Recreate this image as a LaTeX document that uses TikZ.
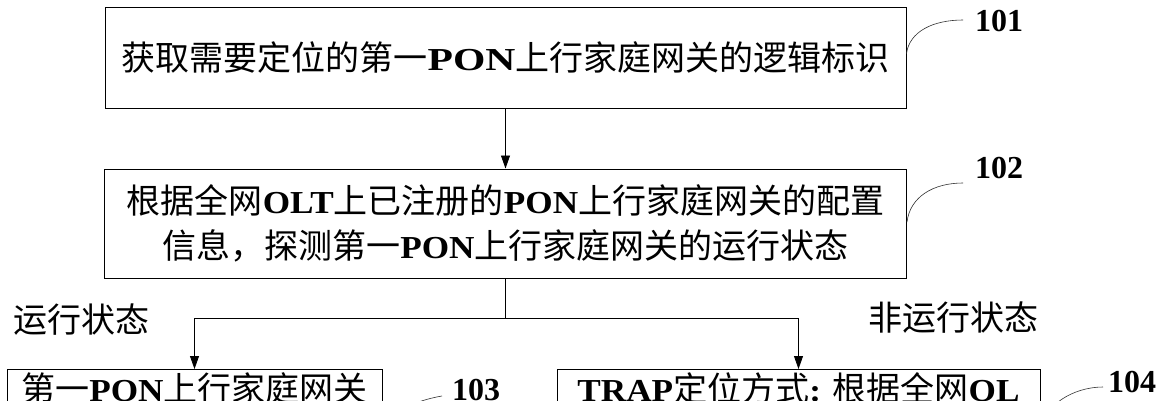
\documentclass[tikz,border=0pt]{standalone}
\usepackage{fontspec}
\usetikzlibrary{arrows.meta}
\newfontfamily\cjk{Noto Sans CJK SC}
\newfontfamily\latwide{Liberation Serif}[FakeStretch=1.3]
\newfontfamily\latmid{Liberation Serif}[FakeStretch=1.1]
\newfontfamily\latnum{Liberation Serif}
\newcommand\zh[1]{{\cjk #1}}
\newcommand\enw[1]{{\latwide\bfseries\fontsize{32}{45}\selectfont #1}}
\newcommand\enm[1]{{\latmid\bfseries\fontsize{32}{45}\selectfont #1}}
\tikzset{
  box/.style={draw, line width=1pt, inner sep=0pt, align=center, font=\fontsize{34}{45}\selectfont},
  conn/.style={line width=0.8pt},
  arr/.style={conn, -{Triangle[length=13pt,width=9pt]}},
  lead/.style={line width=0.6pt, black!80},
  num/.style={inner sep=0pt, anchor=west, font=\latnum\bfseries\fontsize{32}{32}\selectfont},
  cond/.style={inner sep=0pt, anchor=west, font=\cjk\fontsize{34}{34}\selectfont},
}
\begin{document}
\begin{tikzpicture}[x=1pt,y=-1pt]
\useasboundingbox (0,0) rectangle (1163,400);
\clip (0,0) rectangle (1163,400);
\fill[white] (0,0) rectangle (1163,400);

\node[box, minimum width=801pt, minimum height=101pt] (b1) at (505.5,57.5)
  {\zh{获取需要定位的第一}\enw{PON}\zh{上行家庭网关的逻辑标识}};
\node[box, minimum width=802pt, minimum height=109pt] (b2) at (505.5,223.5)
  {\zh{根据全网}\enm{OLT}\zh{上已注册的}\enm{PON}\zh{上行家庭网关的配置}\\
   \zh{信息，探测第一}\enm{PON}\zh{上行家庭网关的运行状态}};
\node[box, anchor=north, minimum width=375pt, text height=32pt, text depth=60pt] (b3) at (194.5,369)
  {\zh{第一}\enm{PON}\zh{上行家庭网关}};
\node[box, anchor=north, minimum width=483pt, text height=32pt, text depth=60pt] (b4) at (798.5,369)
  {\enm{TRAP}\zh{定位方式}\enm{: }\zh{根据全网}\enm{OL}};

\node[cond] (c1) at (13,320) {运行状态};
\node[cond] (c2) at (868,318) {非运行状态};

\coordinate (hl) at (0,318);
\coordinate (j) at (b2.south |- hl);
\draw[arr] (b1.south) -- (b2.north);
\draw[conn] (b2.south) -- (j);
\draw[arr] (j) -| (b3.north);
\draw[arr] (j) -| (b4.north);

\node[num] (n101) at (975,21) {101};
\node[num] (n102) at (975,168.5) {102};
\node[num] (n103) at (452,390) {103};
\node[num] (n104) at (1108,382) {104};
\coordinate (e101) at (963,20);
\coordinate (e102) at (963,183);
\coordinate (e103) at (442,396);
\coordinate (e104) at (1103,387);
\draw[lead] ([yshift=4pt]b1.east) .. controls +(3,-22) and +(-30,0) .. (e101);
\draw[lead] ([yshift=1.5pt]b2.east) .. controls +(3,-25) and +(-30,0) .. (e102);
\draw[lead] ([yshift=-15pt]b3.east) .. controls +(8,-22) and +(-18,3) .. (e103);
\draw[lead] ([yshift=-15pt]b4.east) .. controls +(3,-25) and +(-30,0) .. (e104);
\end{tikzpicture}
\end{document}
